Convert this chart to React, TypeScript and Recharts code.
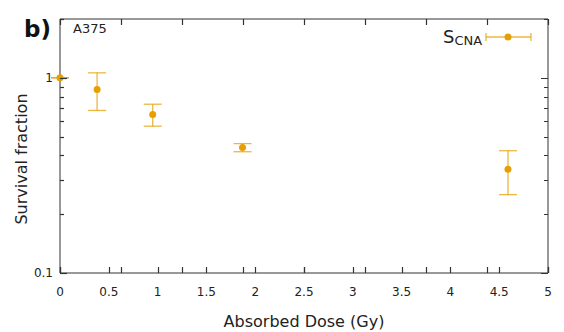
import { ComposedChart, ErrorBar, Scatter, XAxis, YAxis } from "recharts";

const doses = [0, 0.38, 0.95, 1.87, 4.59];
const survival = [1, 0.87, 0.648, 0.44, 0.34];
const lower = [1, 0.68, 0.565, 0.418, 0.252];
const upper = [1, 1.06, 0.732, 0.46, 0.423];

const xTicks = [0, 0.5, 1, 1.5, 2, 2.5, 3, 3.5, 4, 4.5, 5];
const yTicks = [0.1, 0.2, 0.3, 0.4, 0.5, 0.6, 0.7, 0.8, 0.9, 1, 2];
const yLabelled = [0.1, 1];

const data = doses.map((dose, i) => ({
  dose,
  survival: survival[i],
  err: [survival[i] - lower[i], upper[i] - survival[i]],
}));

const W = 564;
const H = 332;
const MARGIN = { top: 18, right: 15, bottom: 0, left: 0 };
const X_AXIS_H = 59;
const Y_AXIS_W = 60;
// plot box size, so the top/right axes can also mark the bottom/left edges
const PLOT_H = H - MARGIN.top - 1 - X_AXIS_H;
const PLOT_W = W - MARGIN.right - 1 - Y_AXIS_W;

const ORANGE = "#E69F00";
const AXIS = "#333";
const TEXT = "#222";
const FONT = "'DejaVu Sans', Verdana, sans-serif";

const px = (v: number) => Math.round(v) + 0.5;

function BottomTick({ x, y, payload }: any) {
  return (
    <g>
      <path d={`M${px(x)},${y}v-6`} stroke={AXIS} strokeWidth={1.2} fill="none" />
      <text x={x} y={y + 23} textAnchor="middle" fontSize={12} fill={TEXT} fontFamily={FONT}>
        {payload.value}
      </text>
    </g>
  );
}

function TopTick({ x, y }: any) {
  const yb = y + PLOT_H;
  return (
    <path
      d={`M${px(x)},${y}v6M${px(x)},${yb}v-6`}
      stroke={AXIS}
      strokeWidth={1.2}
      fill="none"
    />
  );
}

function LeftTick({ x, y, payload }: any) {
  const major = yLabelled.includes(payload.value);
  return (
    <g>
      <path d={`M${x},${px(y)}h${major ? 7 : 4}`} stroke={AXIS} strokeWidth={1.2} fill="none" />
      {major && (
        <text x={x - 7} y={y + 4} textAnchor="end" fontSize={12} fill={TEXT} fontFamily={FONT}>
          {payload.value}
        </text>
      )}
    </g>
  );
}

function RightTick({ x, y, payload }: any) {
  const len = yLabelled.includes(payload.value) ? 7 : 4;
  const xl = x - PLOT_W;
  return (
    <path
      d={`M${x},${px(y)}h${-len}M${xl},${px(y)}h${len}`}
      stroke={AXIS}
      strokeWidth={1.2}
      fill="none"
    />
  );
}

function Dot({ cx, cy }: any) {
  return <circle cx={cx} cy={cy} r={3.5} fill={ORANGE} />;
}

export default function App() {
  return (
    <div style={{ position: "absolute", left: 0, top: 0, width: W, height: H, background: "#fff" }}>
      <ComposedChart width={W} height={H} data={data} margin={MARGIN}>
        <XAxis
          dataKey="dose"
          type="number"
          domain={[0, 5]}
          ticks={xTicks}
          interval={0}
          height={X_AXIS_H}
          tickSize={0}
          tickMargin={0}
          tick={BottomTick}
          tickLine={false}
          axisLine={{ stroke: AXIS }}
        />
        <XAxis
          xAxisId="top"
          orientation="top"
          type="number"
          domain={[0, 5]}
          ticks={xTicks}
          interval={0}
          height={1}
          tickSize={0}
          tickMargin={0}
          tick={TopTick}
          tickLine={false}
          axisLine={{ stroke: AXIS }}
        />
        <YAxis
          scale="log"
          domain={[0.1, 2]}
          ticks={yTicks}
          interval={0}
          allowDataOverflow
          width={Y_AXIS_W}
          tickSize={0}
          tickMargin={0}
          tick={LeftTick}
          tickLine={false}
          axisLine={{ stroke: AXIS }}
        />
        <YAxis
          yAxisId="right"
          orientation="right"
          scale="log"
          domain={[0.1, 2]}
          ticks={yTicks}
          interval={0}
          allowDataOverflow
          width={1}
          tickSize={0}
          tickMargin={0}
          tick={RightTick}
          tickLine={false}
          axisLine={{ stroke: AXIS }}
        />
        <Scatter dataKey="survival" name="SCNA" shape={Dot} isAnimationActive={false}>
          <ErrorBar
            dataKey="err"
            direction="y"
            width={9}
            stroke={ORANGE}
            strokeOpacity={0.75}
            strokeWidth={1.3}
            isAnimationActive={false}
          />
        </Scatter>
      </ComposedChart>
      <svg width={W} height={H} style={{ position: "absolute", left: 0, top: 0, pointerEvents: "none" }}>
        <text x={24} y={37} fontSize={23} fontWeight="bold" fill="#111" fontFamily={FONT}>
          b)
        </text>
        <text x={73} y={33} fontSize={13} fill={TEXT} fontFamily={FONT}>
          A375
        </text>
        <text x={443} y={43} fontSize={18} fill={TEXT} fontFamily={FONT}>
          S<tspan fontSize={13} dy={2}>CNA</tspan>
        </text>
        <g stroke={ORANGE} strokeOpacity={0.75} strokeWidth={1.3}>
          <line x1={486} x2={531} y1={37} y2={37} />
          <line x1={486} x2={486} y1={33} y2={41} />
          <line x1={531} x2={531} y1={33} y2={41} />
        </g>
        <circle cx={508} cy={37} r={3.5} fill={ORANGE} />
        <text
          transform="translate(27,159) rotate(-90)"
          textAnchor="middle"
          fontSize={16}
          fill={TEXT}
          fontFamily={FONT}
        >
          Survival fraction
        </text>
        <text x={304} y={327} textAnchor="middle" fontSize={16} fill={TEXT} fontFamily={FONT}>
          Absorbed Dose (Gy)
        </text>
      </svg>
    </div>
  );
}
